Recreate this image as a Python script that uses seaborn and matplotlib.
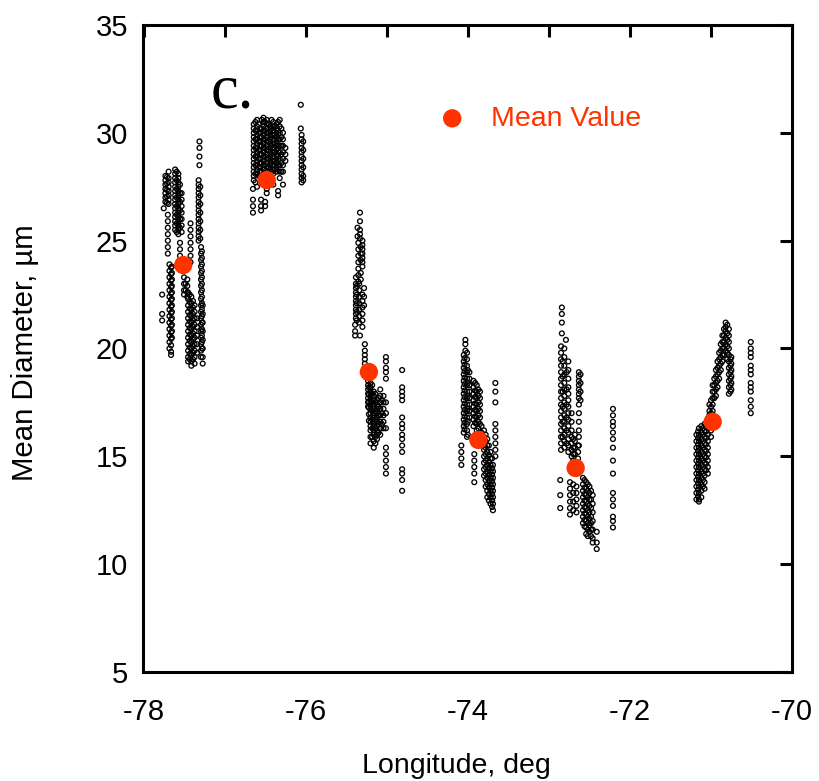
import numpy as np
import pandas as pd
import matplotlib
matplotlib.use("Agg")
import matplotlib.pyplot as plt
import seaborn as sns

sns.set_style("white")
plt.rcParams["font.family"] = ["Liberation Sans", "DejaVu Sans"]
plt.rcParams["axes.unicode_minus"] = False
for k in ["text.color", "axes.labelcolor", "xtick.color", "ytick.color", "axes.edgecolor"]:
    plt.rcParams[k] = "black"

# ---- data: each segment is (longitude, [mean diameters]) ----
cluster1 = [
    (-77.73, [28.0, 27.8, 27.6, 27.4, 27.2, 27.0, 26.8]),
    (-77.71, [27.95, 27.65, 27.35, 27.05, 26.75]),
    (-77.69, [28.2, 27.9, 27.7, 27.5, 27.3, 27.1, 26.9, 26.7]),
    (-77.75, [26.5]),
    (-77.70, [26.2, 25.9, 25.6, 25.3, 25.0, 24.7, 24.4]),
    (-77.68, [23.9, 23.6, 23.3, 23.0, 22.7, 22.4, 22.1, 21.8, 21.5, 21.2, 20.9, 20.6, 20.3, 20.0]),
    (-77.66, [23.75, 23.45, 23.15, 22.85, 22.55, 22.25, 21.95, 21.65, 21.35, 21.05, 20.75, 20.45,
              20.15, 19.85]),
    (-77.65, [23.8, 23.5, 23.2, 22.9, 22.6, 22.3, 22.0, 21.7, 21.4, 21.1, 20.8, 20.5]),
    (-77.77, [22.5, 21.6, 21.3]),
    (-77.66, [19.7]),
    (-77.61, [28.3, 28.1, 27.9, 27.7, 27.5, 27.3, 27.1, 26.9, 26.7, 26.5, 26.3, 26.1, 25.9, 25.7, 25.5]),
    (-77.59, [28.2, 27.8, 27.4, 27.0, 26.6, 26.2, 25.8, 25.4]),
    (-77.57, [28.1, 27.9, 27.7, 27.5, 27.3, 27.1, 26.9, 26.7, 26.5, 26.3, 26.1, 25.9, 25.7, 25.5, 25.3]),
    (-77.55, [27.6, 27.2, 26.8, 26.4, 26.0, 25.6]),
    (-77.53, [27.2, 26.9, 26.6, 26.3, 26.0, 25.7, 25.4]),
    (-77.55, [24.9, 24.6, 24.3]),
    (-77.50, [23.3, 23.0, 22.7, 22.5]),
    (-77.48, [23.0, 22.7]),
    (-77.46, [23.2, 22.9, 22.6, 22.4]),
    (-77.42, [25.8, 25.5, 25.2, 24.9, 24.6, 24.3, 24.0]),
    (-77.45, [22.6, 22.3, 22.0, 21.7, 21.4, 21.1, 20.8, 20.5, 20.2, 19.9, 19.6, 19.4]),
    (-77.43, [22.5, 22.15, 21.85, 21.55, 21.25, 20.95, 20.65, 20.35, 20.05, 19.75, 19.5]),
    (-77.41, [22.4, 22.1, 21.8, 21.5, 21.2, 20.9, 20.6, 20.3, 20.0, 19.7, 19.4, 19.2]),
    (-77.39, [22.2, 21.9, 21.6, 21.3, 21.0, 20.7, 20.4, 20.1, 19.8, 19.5]),
    (-77.37, [22.0, 21.7, 21.4, 21.1, 20.8, 20.5, 20.2, 19.9, 19.6, 19.3]),
    (-77.34, [21.4, 21.0, 20.6, 20.2, 19.8]),
    (-77.31, [29.6, 29.3, 28.9, 28.5]),
    (-77.32, [27.8, 27.6, 27.4, 27.2, 27.0, 26.8, 26.6, 26.4, 26.2, 26.0, 25.8, 25.6, 25.4, 25.2, 25.0]),
    (-77.30, [27.5, 27.1, 26.7, 26.3, 25.9, 25.5, 25.1]),
    (-77.29, [24.7, 24.4, 24.1, 23.8, 23.5, 23.2, 22.9, 22.6, 22.3, 22.0, 21.7, 21.4, 21.1, 20.8,
              20.5, 20.2, 19.9, 19.6]),
    (-77.28, [24.5, 24.2, 23.9, 23.6, 23.3, 23.0, 22.7, 22.4, 22.1, 21.8, 21.5, 21.2, 20.9, 20.6,
              20.3, 20.0]),
    (-77.27, [22.0, 21.6, 21.2, 20.8, 20.4, 20.0, 19.6, 19.3]),
]

cluster2 = [
    (-76.64, [30.4, 30.2, 30.0, 29.8, 29.6, 29.4, 29.2, 29.0, 28.8, 28.6, 28.4, 28.2, 28.0, 27.8]),
    (-76.62, [30.5, 30.1, 29.7, 29.3, 28.9, 28.5, 28.1, 27.7]),
    (-76.60, [30.6, 30.3, 30.1, 29.9, 29.7, 29.5, 29.3, 29.1, 28.9, 28.7, 28.5, 28.3, 28.1, 27.5]),
    (-76.58, [30.4, 30.0, 29.6, 29.2, 28.8, 28.4, 28.0]),
    (-76.56, [30.2, 30.0, 29.8, 29.6, 29.4, 29.2, 29.0, 28.8, 28.6, 28.4, 28.2, 28.0]),
    (-76.54, [30.6, 30.2, 29.8, 29.4, 29.0, 28.6, 28.2]),
    (-76.52, [30.7, 30.5, 30.3, 30.1, 29.9, 29.7, 29.5, 29.3, 29.1, 28.9, 28.7, 28.5, 28.3, 28.1]),
    (-76.50, [30.5, 30.1, 29.7, 29.3, 28.9, 28.5, 28.1]),
    (-76.48, [30.6, 30.4, 30.2, 30.0, 29.8, 29.6, 29.4, 29.2, 29.0, 28.8, 28.6, 28.4, 28.2, 27.4, 27.2]),
    (-76.46, [30.4, 30.0, 29.6, 29.2, 28.8, 28.4]),
    (-76.44, [30.3, 30.1, 29.9, 29.7, 29.5, 29.3, 29.1, 28.9, 28.7, 28.5, 28.3, 28.1]),
    (-76.42, [30.6, 30.2, 29.8, 29.4, 29.0, 28.6, 28.2]),
    (-76.40, [30.5, 30.3, 30.1, 29.9, 29.7, 29.5, 29.3, 29.1, 28.9, 28.7, 28.5, 28.3, 28.1, 27.6]),
    (-76.38, [30.3, 29.9, 29.5, 29.1, 28.7, 28.3]),
    (-76.36, [30.4, 30.2, 30.0, 29.8, 29.6, 29.4, 29.2, 29.0, 28.8, 28.6, 28.4, 28.2]),
    (-76.34, [30.5, 30.1, 29.7, 29.3, 28.9, 28.5]),
    (-76.32, [30.6, 30.3, 30.0, 29.7, 29.4, 29.1, 28.8, 28.5, 28.2, 27.9]),
    (-76.30, [30.2, 29.8, 29.4, 29.0, 28.6, 28.2]),
    (-76.28, [30.0, 29.7, 29.4, 29.1, 28.8, 28.5, 28.2, 27.6]),
    (-76.25, [29.3, 29.0, 28.7]),
    (-76.65, [27.4, 26.9, 26.6, 26.3]),
    (-76.55, [26.9, 26.6, 26.4]),
    (-76.50, [26.8, 26.6]),
    (-76.34, [27.3, 27.1]),
    (-76.06, [31.3, 30.2]),
    (-76.05, [29.9, 29.7, 29.5, 29.3, 29.1, 28.9, 28.7, 28.5, 28.3, 28.1, 27.9, 27.7]),
    (-76.03, [29.6, 29.2, 28.8, 28.4, 28.0, 27.8]),
]

cluster3 = [
    (-75.33, [26.3, 25.9, 25.5, 25.3, 25.1]),
    (-75.36, [25.6, 25.2]),
    (-75.30, [25.0, 24.8, 24.6, 24.4, 24.2, 24.0, 23.8]),
    (-75.32, [24.7, 24.4, 24.1, 23.5, 23.2]),
    (-75.35, [24.9, 24.6, 24.3, 24.0, 23.7, 23.4, 23.1]),
    (-75.38, [23.3, 23.0, 22.8, 22.6, 22.4, 22.2, 22.0, 21.8, 21.6, 21.4]),
    (-75.37, [22.9, 22.5, 22.1, 21.7, 21.3]),
    (-75.34, [23.0, 22.7, 22.4, 22.1, 21.8, 21.5, 21.2]),
    (-75.30, [22.5, 22.2, 21.9, 21.6, 21.3, 21.0]),
    (-75.28, [22.8, 22.4, 22.0]),
    (-75.39, [21.1, 20.8, 20.6]),
    (-75.33, [20.6]),
    (-75.27, [20.2, 19.9, 19.7, 19.5, 19.3]),
    (-75.25, [19.1, 18.9, 18.7]),
    (-75.23, [18.5, 18.3, 18.1, 17.9, 17.7, 17.5, 17.3]),
    (-75.22, [18.2, 17.85, 17.55, 17.25, 16.95, 16.65]),
    (-75.20, [18.4, 18.2, 18.0, 17.8, 17.6, 17.4, 17.2, 17.0, 16.8, 16.6, 16.4, 16.2, 15.9, 15.6]),
    (-75.18, [18.3, 17.9, 17.5, 17.1, 16.7, 16.3, 15.9]),
    (-75.16, [18.0, 17.8, 17.6, 17.4, 17.2, 17.0, 16.8, 16.6, 16.4, 16.2, 16.0, 15.7, 15.4]),
    (-75.14, [17.9, 17.5, 17.1, 16.7, 16.3, 15.9, 15.6]),
    (-75.12, [17.6, 17.4, 17.2, 17.0, 16.8, 16.6, 16.4, 16.2, 16.0, 15.8]),
    (-75.10, [17.7, 17.3, 16.9, 16.5, 16.1]),
    (-75.08, [18.1, 17.8, 17.5, 17.2, 16.9, 16.6, 16.3, 16.0]),
    (-75.06, [17.6, 17.0, 16.5]),
    (-75.04, [17.8, 17.5, 17.2, 16.9, 16.6, 16.3]),
    (-75.01, [19.6, 19.4, 19.1, 18.9, 18.6, 17.5, 17.0, 16.3, 15.4, 15.1, 14.8, 14.5, 14.2]),
    (-74.81, [19.0, 18.2, 18.0, 17.8, 17.6, 16.8, 16.5, 16.3, 16.0, 15.8, 15.5, 15.2, 14.4, 14.2,
              13.9, 13.4]),
]

cluster4 = [
    (-74.03, [20.4, 20.2, 19.9]),
    (-74.05, [19.7, 19.4, 19.1, 18.8, 18.5, 18.2, 17.9, 17.6, 17.3, 17.0, 16.7, 16.4, 16.1]),
    (-74.04, [19.55, 19.25, 18.95, 18.65, 18.35, 18.05, 17.75, 17.45, 17.15, 16.85, 16.55, 16.25]),
    (-74.01, [19.8, 19.5, 19.2, 18.9, 18.6, 18.3, 18.0, 17.7, 17.4, 17.1, 16.8, 16.5, 16.2, 15.9]),
    (-74.00, [19.0, 18.4, 17.8, 17.2, 16.6, 16.0]),
    (-73.98, [18.9, 18.6, 18.3, 18.0, 17.7, 17.4, 17.1, 16.8]),
    (-74.08, [15.5, 15.2, 14.9, 14.6]),
    (-73.92, [15.1, 14.8, 14.5, 14.2, 13.8]),
    (-73.93, [18.5, 18.2, 17.9, 17.6, 17.3, 17.0, 16.7, 16.4]),
    (-73.91, [18.4, 18.05, 17.75, 17.45, 17.15, 16.85, 16.55]),
    (-73.89, [18.3, 18.0, 17.7, 17.4, 17.1, 16.8, 16.5, 16.2]),
    (-73.87, [18.1, 17.8, 17.5, 17.2, 16.9, 16.6, 16.3]),
    (-73.85, [18.0, 17.7, 17.4, 17.1, 16.8, 16.5]),
    (-73.83, [16.4, 16.1, 15.8]),
    (-73.80, [16.2, 15.9, 15.6, 15.3, 15.0, 14.7, 14.4, 14.1]),
    (-73.78, [16.0, 15.7, 15.4, 15.1, 14.8, 14.5, 14.2, 13.9, 13.6]),
    (-73.76, [15.8, 15.5, 15.2, 14.9, 14.6, 14.3, 14.0, 13.7, 13.4, 13.1]),
    (-73.74, [15.5, 15.05, 14.75, 14.45, 14.15, 13.85, 13.55, 13.25, 12.95]),
    (-73.72, [15.2, 14.9, 14.6, 14.3, 14.0, 13.7, 13.4, 13.1, 12.8]),
    (-73.70, [14.9, 14.45, 14.15, 13.85, 13.55, 13.25, 12.95, 12.65]),
    (-73.69, [14.6, 14.3, 14.0, 13.7, 13.4, 13.1, 12.8, 12.5]),
    (-73.66, [18.4, 18.0, 17.5, 16.5, 16.2, 15.9, 15.6, 15.3, 15.0]),
]

cluster5 = [
    (-72.84, [21.9, 21.6, 21.2, 20.7]),
    (-72.79, [20.4]),
    (-72.85, [20.1, 19.8, 19.5, 19.2, 18.9, 18.6, 18.3, 18.0, 17.7, 17.4, 17.1, 16.8, 16.5, 16.2,
              15.9, 15.6, 15.3]),
    (-72.83, [19.4, 18.7, 18.0, 17.3, 16.6, 15.9]),
    (-72.81, [20.0, 19.6, 19.2, 18.8, 18.4, 18.1, 17.8, 17.5, 17.2, 16.9, 16.6, 16.3, 16.0, 15.7, 15.4]),
    (-72.78, [18.9, 18.1, 17.4, 16.8, 16.2, 15.6]),
    (-72.76, [19.4, 19.0, 18.6, 18.2, 17.9, 17.6, 17.3, 17.0, 16.7, 16.4, 16.1, 15.8, 15.5, 15.2]),
    (-72.72, [17.0, 16.6, 16.2, 15.9, 15.6, 15.3, 15.0]),
    (-72.70, [15.8, 15.4, 15.1, 14.8]),
    (-72.68, [16.0, 15.7, 15.4, 15.1]),
    (-72.64, [15.5, 15.2, 14.9]),
    (-72.63, [18.9, 18.7, 18.5, 18.3, 18.1, 17.9, 17.7, 17.4, 17.0, 16.6, 16.2, 15.9, 15.5]),
    (-72.61, [18.8, 18.4, 18.0, 17.6]),
    (-72.86, [13.9, 13.2, 12.6]),
    (-72.74, [13.8, 13.5, 13.2, 12.9, 12.6, 12.3]),
    (-72.70, [13.7, 13.3, 12.9, 12.5]),
    (-72.66, [13.6, 13.3, 13.0, 12.7, 12.4]),
    (-72.58, [14.0, 13.7, 13.4, 13.1, 12.8, 12.5, 12.2, 11.9]),
    (-72.56, [13.9, 13.55, 13.25, 12.95, 12.65, 12.35, 12.05, 11.75]),
    (-72.54, [13.8, 13.5, 13.2, 12.9, 12.6, 12.3, 12.0, 11.7, 11.4]),
    (-72.52, [13.7, 13.4, 13.1, 12.8, 12.5, 12.2, 11.9, 11.6, 11.3]),
    (-72.50, [13.6, 13.3, 13.0, 12.7, 12.4, 12.1, 11.8, 11.5]),
    (-72.48, [13.4, 13.0, 12.6, 12.2, 11.9, 11.6, 11.3]),
    (-72.46, [13.2, 12.8, 12.4, 12.0, 11.6, 11.2, 11.0]),
    (-72.41, [11.5, 11.0, 10.7]),
    (-72.21, [17.2, 16.9, 16.6, 16.4, 16.1, 15.8, 15.4, 14.8, 14.2, 13.3, 13.0, 12.7, 12.2, 12.0, 11.7]),
]

cluster6 = [
    (-71.18, [16.0, 15.7, 15.4, 15.1, 14.8, 14.5, 14.2, 13.9, 13.6, 13.3, 13.0]),
    (-71.16, [16.15, 15.85, 15.55, 15.25, 14.95, 14.65, 14.35, 14.05, 13.75, 13.45, 13.15]),
    (-71.15, [16.3, 16.0, 15.7, 15.4, 15.1, 14.8, 14.5, 14.2, 13.9, 13.6, 13.3, 13.0, 12.9]),
    (-71.12, [16.4, 16.1, 15.8, 15.5, 15.2, 14.9, 14.6, 14.3, 14.0, 13.7, 13.4, 13.1]),
    (-71.10, [16.3, 16.0, 15.7, 15.4, 15.1, 14.8, 14.5, 14.2, 13.9, 13.6]),
    (-71.08, [16.5, 16.2, 15.9, 15.6, 15.3, 15.0, 14.7, 14.4, 14.1, 13.8, 13.5]),
    (-71.06, [16.45, 16.15, 15.85, 15.55, 15.25, 14.95, 14.65, 14.35]),
    (-71.04, [16.6, 16.3, 16.0, 15.7, 15.4, 15.1, 14.8, 14.5, 14.2]),
    (-71.00, [16.8, 16.5, 16.2, 15.9]),
    (-71.02, [17.4, 17.1, 16.9]),
    (-71.00, [17.6, 17.3, 17.0]),
    (-70.98, [18.3, 18.0, 17.7, 17.4, 17.1]),
    (-70.96, [18.6, 18.3, 18.0, 17.7]),
    (-70.94, [19.0, 18.7, 18.4, 18.1, 17.8]),
    (-70.92, [19.4, 19.1, 18.8, 18.5, 18.2]),
    (-70.90, [19.8, 19.5, 19.2, 18.9, 18.6]),
    (-70.88, [20.2, 19.9, 19.6, 19.3, 19.0]),
    (-70.86, [20.6, 20.3, 20.0, 19.7, 19.4]),
    (-70.84, [20.9, 20.6, 20.3, 20.0, 19.7]),
    (-70.82, [21.2, 21.0, 20.8, 20.5, 20.2, 19.9]),
    (-70.80, [21.1, 20.7, 20.4, 20.1, 19.8, 19.5]),
    (-70.78, [20.9, 20.6, 20.3, 20.0, 19.7, 19.4, 19.1, 18.8, 18.5, 18.2, 17.9]),
    (-70.76, [19.5, 19.2, 18.9, 18.6, 18.3, 18.0]),
    (-70.75, [19.6, 19.3, 19.0, 18.7, 18.4, 18.1]),
    (-70.51, [20.3, 20.0, 19.8, 19.6, 19.2, 19.0, 18.8, 18.4, 18.2, 18.0, 17.6, 17.3, 17.0]),
]

mean_lon = [-77.51, -76.48, -75.22, -73.87, -72.67, -70.98]
mean_dia = [23.87, 27.81, 18.91, 15.76, 14.46, 16.60]

x_major = [-78, -76, -74, -72, -70]
x_major_labels = ["-78", "-76", "-74", "-72", "-70"]
x_minor = [-77, -75, -73, -71]
y_major = [5, 10, 15, 20, 25, 30, 35]
y_major_labels = ["5", "10", "15", "20", "25", "30", "35"]

# ---- build tables ----
rows = []
for segs in [cluster1, cluster2, cluster3, cluster4, cluster5, cluster6]:
    for lon, ys in segs:
        for d in ys:
            rows.append((lon, d))
df = pd.DataFrame(rows, columns=["lon", "dia"])
means = pd.DataFrame({"lon": mean_lon, "dia": mean_dia})

# ---- figure ----
fig = plt.figure(figsize=(8.2, 7.81), dpi=100)
ax = fig.add_axes([0.175, 0.1396, 0.791, 0.8284])

sns.scatterplot(data=df, x="lon", y="dia", ax=ax, marker="o", s=12,
                color="black", edgecolor="black", linewidth=0.95, legend=False, zorder=2)
pts = ax.collections[0]
pts.set_facecolor("none")
pts.set_edgecolor("black")

sns.scatterplot(data=means, x="lon", y="dia", ax=ax, marker="o", s=175,
                color="#ff3300", edgecolor="none", linewidth=0, legend=False, zorder=3)
mean_coll = ax.collections[1]

ax.legend(handles=[mean_coll], labels=["Mean Value"], loc="center left",
          bbox_to_anchor=(0.454, 0.855), frameon=False, fontsize=20.5,
          handlelength=1.0, handletextpad=0.85, borderpad=0, borderaxespad=0,
          labelcolor="#ff3300", scatterpoints=1)

ax.set_xlim(-78, -70)
ax.set_ylim(5, 35)
ax.set_xticks(x_major)
ax.set_xticklabels(x_major_labels)
ax.set_xticks(x_minor, minor=True)
ax.set_yticks(y_major)
ax.set_yticklabels(y_major_labels)
ax.tick_params(which="both", direction="in", length=8.6, width=2.2,
               top=True, right=True, labelsize=21, color="black", labelcolor="black")
ax.tick_params(axis="x", which="both", pad=19)
ax.tick_params(axis="y", which="both", pad=11)
for sp in ax.spines.values():
    sp.set_linewidth(2.2)
    sp.set_color("black")

ax.set_xlabel("Longitude, deg", fontsize=20.5, color="black")
ax.set_ylabel("Mean Diameter, \u00b5m", fontsize=21.2, color="black")
ax.xaxis.set_label_coords(0.482, -0.145)
ax.xaxis.label.set_va("center")
ax.yaxis.set_label_coords(-0.183, 0.493)
ax.yaxis.label.set_va("center")

ax.text(0.104, 0.872, "c.", transform=ax.transAxes, fontsize=45, color="black",
        family=["Liberation Serif", "DejaVu Serif"], va="baseline", ha="left")

fig.savefig("out.png", dpi=100)
